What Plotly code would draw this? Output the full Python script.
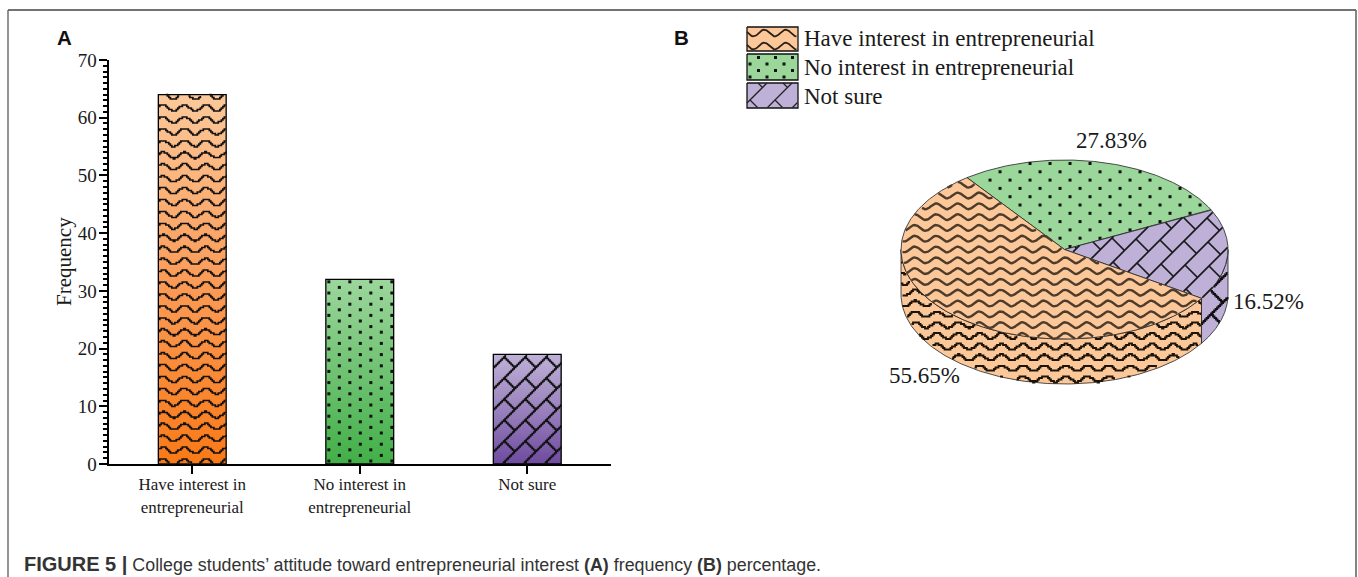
import numpy as np
import plotly.graph_objects as go

# ---- chart data ----
categories = ["Have interest in<br>entrepreneurial", "No interest in<br>entrepreneurial", "Not sure"]
legend_labels = ["Have interest in entrepreneurial", "No interest in entrepreneurial", "Not sure"]
frequency = [64, 32, 19]
percentage = [55.65, 27.83, 16.52]
y_ticks = [0, 10, 20, 30, 40, 50, 60, 70]

# ---- page and panel layout, in page pixels ----
W, H = 1358, 577
AX_L, AX_R, AX_T, AX_B = 108.5, 611.0, 60.0, 464.0
BAR_WIDTH = 0.405
PIE_CX, PIE_CY, PIE_A, PIE_B, PIE_DEPTH = 1064.5, 249.5, 163.5, 89.5, 45.0
PIE_START_DEG = 126.6

ORANGE = "#FCC899"
GREEN = "#9BD69B"
PURPLE = "#BEB0D7"
GRADIENTS = [
    ["#FA7A18", "#FB9C58", "#FCC899"],
    ["#43AF48", "#6FC272", "#9BD69B"],
    ["#6F4BA0", "#9A82BD", "#BEB0D7"],
]
INK = "#111111"


def x_px(v):
    return AX_L + (np.asarray(v, float) + 0.5) / 3.0 * (AX_R - AX_L)


def y_px(v):
    return AX_B - np.asarray(v, float) / 70.0 * (AX_B - AX_T)


def inside(px, py, poly_x, poly_y):
    """Even-odd point-in-polygon test over arrays of points."""
    px, py = np.asarray(px, float), np.asarray(py, float)
    res = np.zeros(px.shape, bool)
    x0, y0 = np.asarray(poly_x, float), np.asarray(poly_y, float)
    x1, y1 = np.roll(x0, 1), np.roll(y0, 1)
    for a, b, c, d in zip(x0, y0, x1, y1):
        if b == d:
            continue
        cross = ((b > py) != (d > py)) & (px < (c - a) * (py - b) / (d - b) + a)
        res ^= cross
    return res


def cut(xs, ys, poly):
    """Blank the samples outside the polygon so the line breaks there."""
    xs, ys = np.asarray(xs, float), np.asarray(ys, float)
    keep = inside(xs, ys, *poly) | np.isnan(xs)
    xs = np.where(keep, xs, np.nan)
    ys = np.where(keep, ys, np.nan)
    return xs, ys


def wave_lines(poly, period=21.5, rows=11.5, amp=3.2, step=1.5, y0=0.0):
    xmin, xmax, ymin, ymax = min(poly[0]), max(poly[0]), min(poly[1]), max(poly[1])
    xs, ys = [], []
    base = np.arange(xmin, xmax + step, step)
    first = y0 + np.floor((ymin - amp - y0) / rows) * rows
    for row in np.arange(first, ymax + amp + rows, rows):
        xs += [base, [np.nan]]
        ys += [row + amp * np.cos(2 * np.pi * (base - AX_L) / period), [np.nan]]
    return cut(np.concatenate(xs), np.concatenate(ys), poly)


def brick_lines(poly, spacing=21.0, course=21.0, step=1.0):
    xmin, xmax, ymin, ymax = min(poly[0]), max(poly[0]), min(poly[1]), max(poly[1])
    xs, ys = [], []
    umin, umax = xmin + ymin, xmax + ymax
    vmin, vmax = xmin - ymax, xmax - ymin
    ks = np.arange(np.floor(umin / spacing), np.ceil(umax / spacing) + 1)
    for k in ks:
        v = np.arange(vmin, vmax + step, step)
        u = np.full_like(v, k * spacing)
        xs += [(u + v) / 2, [np.nan]]
        ys += [(u - v) / 2, [np.nan]]
        offset = course if int(k) % 2 else 0.0
        for m in np.arange(np.floor(vmin / (2 * course)), np.ceil(vmax / (2 * course)) + 1):
            u2 = np.arange(k * spacing, (k + 1) * spacing + step, step)
            v2 = np.full_like(u2, 2 * m * course + offset)
            xs += [(u2 + v2) / 2, [np.nan]]
            ys += [(u2 - v2) / 2, [np.nan]]
    return cut(np.concatenate(xs), np.concatenate(ys), poly)


def dot_points(poly, dx=21.0, dy=5.6):
    xmin, xmax, ymin, ymax = min(poly[0]), max(poly[0]), min(poly[1]), max(poly[1])
    xs, ys = [], []
    for j, y in enumerate(np.arange(ymax - 3, ymin, -dy)):
        start = xmin + 3 + (dx / 2 if j % 2 else 0.0)
        for x in np.arange(start - dx, xmax, dx):
            xs.append(x)
            ys.append(y)
    xs, ys = np.array(xs), np.array(ys)
    keep = inside(xs, ys, *poly)
    return xs[keep], ys[keep]


fig = go.Figure()


def add_fill(poly, color, line_color="#222222", line_width=0.8):
    fig.add_trace(go.Scatter(
        x=list(poly[0]) + [poly[0][0]], y=list(poly[1]) + [poly[1][0]],
        xaxis="x2", yaxis="y2", mode="lines", fill="toself", fillcolor=color,
        line=dict(color=line_color, width=line_width), hoverinfo="skip", showlegend=False,
    ))


def add_texture(kind, poly, stepped=True, color=INK, width=1.9, **kw):
    if kind == "dots":
        xs, ys = dot_points(poly, **kw)
        fig.add_trace(go.Scatter(
            x=xs, y=ys, xaxis="x2", yaxis="y2", mode="markers",
            marker=dict(symbol="square", size=3, color=color, line=dict(width=0)),
            hoverinfo="skip", showlegend=False,
        ))
        return
    xs, ys = (wave_lines if kind == "wave" else brick_lines)(poly, **kw)
    if stepped:
        ys = np.where(np.isnan(ys), ys, np.round(ys / 1.5) * 1.5)
    fig.add_trace(go.Scatter(
        x=xs, y=ys, xaxis="x2", yaxis="y2", mode="lines", connectgaps=False,
        line=dict(color=color, width=width, shape="hv" if stepped else "linear"),
        hoverinfo="skip", showlegend=False,
    ))


# ---- panel A: gradient under each bar, then outlined bars and their textures ----
for i, v in enumerate(frequency):
    levels = np.linspace(0, v, 61)
    fig.add_trace(go.Heatmap(
        x=[i - BAR_WIDTH / 2, i, i + BAR_WIDTH / 2], y=levels,
        z=[[k / 59, k / 59] for k in range(60)],
        colorscale=[[0, GRADIENTS[i][0]], [0.5, GRADIENTS[i][1]], [1, GRADIENTS[i][2]]],
        zmin=0, zmax=1, showscale=False, hoverinfo="skip",
    ))

fig.add_trace(go.Bar(
    x=[0, 1, 2], y=frequency, width=BAR_WIDTH, marker=dict(
        color="rgba(0,0,0,0)", line=dict(color="#000000", width=1.3)),
    showlegend=False, hovertemplate="%{y}<extra></extra>",
))

kinds = ["wave", "dots", "brick"]
for i, v in enumerate(frequency):
    left, right = float(x_px(i - BAR_WIDTH / 2)), float(x_px(i + BAR_WIDTH / 2))
    top, bottom = float(y_px(v)), float(y_px(0))
    rect = ([left, right, right, left], [top, top, bottom, bottom])
    if kinds[i] == "wave":
        add_texture("wave", rect, period=21.5, rows=11.8, amp=3.1, y0=AX_B - 2, width=1.7)
    elif kinds[i] == "dots":
        add_texture("dots", rect, dx=21.0, dy=5.6)
    else:
        add_texture("brick", rect, spacing=21.0, course=21.0, width=1.6)


# ---- panel B: tilted pie, built from the percentages ----
def ell(t_deg, dz=0.0):
    t = np.radians(t_deg)
    return PIE_CX + PIE_A * np.cos(t), PIE_CY - PIE_B * np.sin(t) + dz


# slices run clockwise: the green one starts at the back, then purple, then orange
order = [1, 2, 0]
bounds = {}
angle = PIE_START_DEG
for idx in order:
    sweep = percentage[idx] * 3.6
    bounds[idx] = (angle, angle - sweep)
    angle -= sweep

pie_fill = [ORANGE, GREEN, PURPLE]

# visible outer wall: only the front half of the rim, from 180 to 360 degrees
orange_end = bounds[0][0]
wall_spans = {0: (-180.0, orange_end), 2: (orange_end, 0.0)}
for idx, (a0, a1) in wall_spans.items():
    ts = np.linspace(a0, a1, 160)
    tx, ty = ell(ts)
    bx, by = ell(ts[::-1], PIE_DEPTH)
    wall = (np.concatenate([tx, bx]), np.concatenate([ty, by]))
    add_fill(wall, pie_fill[idx])
    if idx == 0:
        add_texture("wave", wall, stepped=True, period=21.5, rows=10.8, amp=2.9, y0=PIE_CY, width=1.8, color="#1c1408")
    else:
        add_texture("brick", wall, stepped=True, spacing=25.0, course=23.0, width=1.9)

# top face sectors
for idx in [1, 2, 0]:
    a0, a1 = bounds[idx]
    ts = np.linspace(a0, a1, 200)
    ex, ey = ell(ts)
    sector = (np.concatenate([[PIE_CX], ex]), np.concatenate([[PIE_CY], ey]))
    add_fill(sector, pie_fill[idx])
    if idx == 0:
        add_texture("wave", sector, stepped=False, period=21.5, rows=10.8, amp=2.9,
                    y0=PIE_CY, width=2.4, color="#4d3b2c")
    elif idx == 1:
        add_texture("dots", sector, dx=20.0, dy=8.3)
    else:
        add_texture("brick", sector, stepped=False, spacing=25.0, course=23.0, width=1.7, color="#1a1a1a")

# ---- legend swatches ----
swatches = [(27, 51), (54, 80), (83, 108)]
for (y0, y1), idx, kind in zip(swatches, [0, 1, 2], ["wave", "dots", "brick"]):
    rect = ([747, 798, 798, 747], [y0, y0, y1, y1])
    add_fill(rect, pie_fill[idx], line_color="#111111", line_width=1.3)
    if kind == "wave":
        add_texture("wave", rect, stepped=False, period=21.5, rows=13.0, amp=3.4, y0=y0 + 6, width=1.8, color="#2a2018")
    elif kind == "dots":
        add_texture("dots", rect, dx=17.0, dy=6.5)
    else:
        add_texture("brick", rect, stepped=False, spacing=25.0, course=25.0, width=1.3, color="#222222")

annotations = []


def label(text, x, y, size, family="Liberation Serif", color="#1a1a1a", anchor="left", angle=0):
    annotations.append(dict(
        text=text, x=x / W, y=1 - y / H, xref="paper", yref="paper", showarrow=False,
        xanchor=anchor, yanchor="middle", textangle=angle, borderpad=0, borderwidth=0,
        font=dict(family=family, size=size, color=color), align="left",
    ))


for text, y in zip(legend_labels, [39, 67, 96]):
    label(text, 804, y, 23)

label(f"{percentage[0]:.2f}%", 889, 375, 23)
label(f"{percentage[1]:.2f}%", 1076, 141, 23)
label(f"{percentage[2]:.2f}%", 1233, 301, 23)

label("Frequency", 64, 262, 21, anchor="center", angle=-90)
label("<b>A</b>", 57, 37, 20.5, family="Liberation Sans", color="#111111")
label("<b>B</b>", 674, 37, 20.5, family="Liberation Sans", color="#111111")
label("<b><span style='font-size:20px'>FIGURE 5 |</span></b> College students’ attitude toward entrepreneurial interest "
      "<b>(A)</b> frequency <b>(B)</b> percentage.",
      24, 564, 17.85, family="Liberation Sans", color="#333333")

# ---- panel frame: top and both sides, running off the bottom of the page ----
frame_shapes = [
    dict(type="line", xref="paper", yref="paper", x0=8 / W, x1=1356 / W, y0=1 - 10 / H, y1=1 - 10 / H,
         line=dict(color="#444444", width=1.4)),
    dict(type="line", xref="paper", yref="paper", x0=8 / W, x1=8 / W, y0=1 - 10 / H, y1=0,
         line=dict(color="#666666", width=1.4)),
    dict(type="line", xref="paper", yref="paper", x0=1356 / W, x1=1356 / W, y0=1 - 10 / H, y1=0,
         line=dict(color="#666666", width=1.6)),
]

fig.update_layout(
    width=W, height=H, margin=dict(l=0, r=0, t=0, b=0, autoexpand=False), autosize=False,
    paper_bgcolor="white", plot_bgcolor="rgba(0,0,0,0)", showlegend=False,
    barmode="overlay", annotations=annotations, shapes=frame_shapes,
    xaxis=dict(
        domain=[AX_L / W, AX_R / W], range=[-0.5, 2.5], tickmode="array", tickvals=[0, 1, 2],
        ticktext=categories, ticks="outside", ticklen=8, tickwidth=1.5, tickcolor="#000000",
        ticklabelstandoff=-4,
        showline=True, linecolor="#000000", linewidth=2, showgrid=False, zeroline=False, automargin=False,
        tickfont=dict(family="Liberation Serif", size=17, color="#1a1a1a"),
    ),
    yaxis=dict(
        domain=[1 - AX_B / H, 1 - AX_T / H], range=[0, 70], tickmode="array", tickvals=y_ticks,
        ticks="outside", ticklen=8, tickwidth=1.5, tickcolor="#000000",
        ticklabelstandoff=-2,
        minor=dict(dtick=1, ticks="outside", ticklen=4, tickwidth=1.5, tickcolor="#000000", showgrid=False),
        showline=True, linecolor="#000000", linewidth=2, showgrid=False, zeroline=False, automargin=False,
        tickfont=dict(family="Liberation Serif", size=19, color="#1a1a1a"),
    ),
    # pixel-scaled drawing space spanning the page, for the pie and the textures
    xaxis2=dict(domain=[0, 1], range=[0, W], visible=False, fixedrange=True, anchor="y2", automargin=False),
    yaxis2=dict(domain=[0, 1], range=[H, 0], visible=False, fixedrange=True, anchor="x2", automargin=False),
)

fig.write_html("out.html", config=dict(displayModeBar=False))
